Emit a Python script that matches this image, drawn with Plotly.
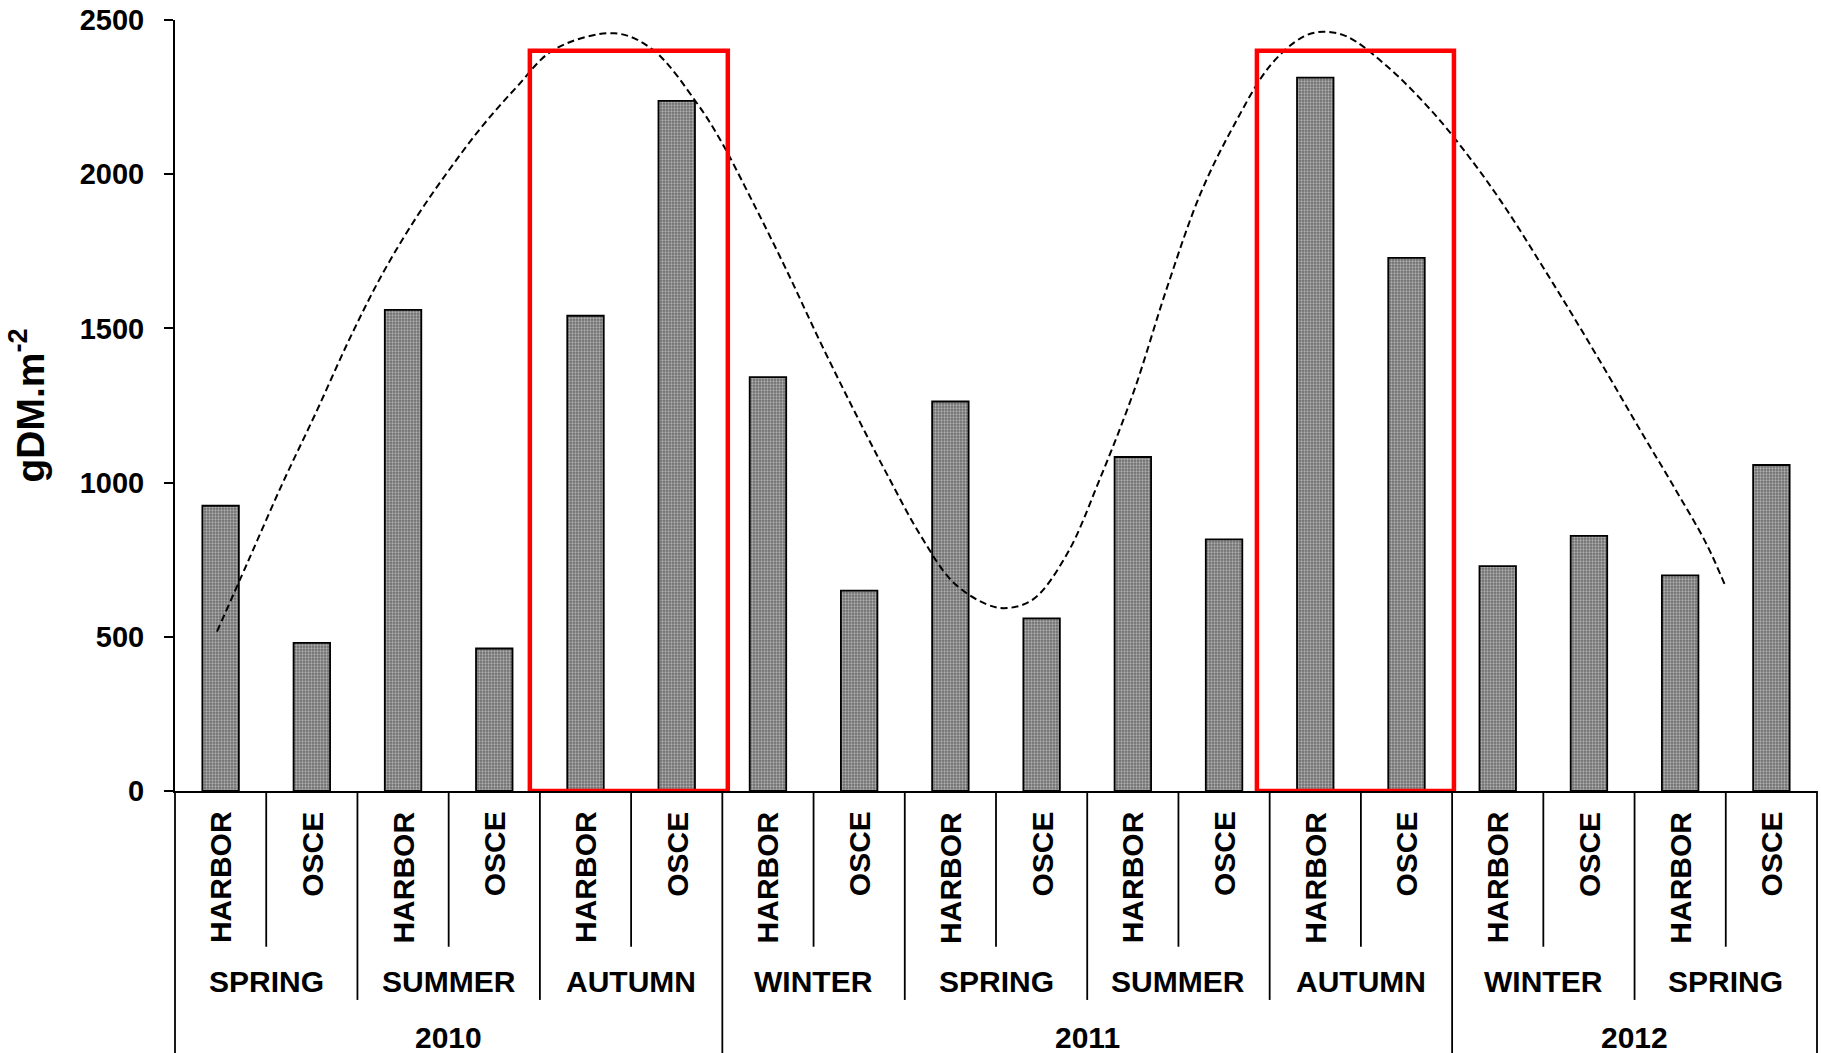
import plotly.graph_objects as go

# Biomass per sampling site, season by season (gDM.m-2)
sites = ["HARBOR", "OSCE"] * 9
seasons = ["SPRING", "SUMMER", "AUTUMN", "WINTER", "SPRING",
           "SUMMER", "AUTUMN", "WINTER", "SPRING"]
years = ["2010", "2011", "2012"]
seasons_per_year = [3, 4, 2]
biomass = [925, 480, 1560, 462, 1541, 2238, 1342, 650, 1263,
           560, 1083, 816, 2313, 1729, 729, 827, 699, 1057]

# Seasonal trend curve (hand-fitted), x in bar-index units
trend_x = [-0.04, 0.30, 0.67, 1.05, 1.42, 1.78, 2.15, 2.52, 2.88, 3.25, 3.65,
           4.32, 4.74, 5.22, 5.48, 5.84, 6.21, 6.57, 6.94, 7.30, 7.67, 8.03,
           8.40, 8.62, 8.91, 9.28, 9.64, 10.01, 10.37, 10.74, 11.10, 11.51,
           11.87, 12.09, 12.35, 12.79, 13.30, 13.74, 14.10, 14.47, 14.83,
           15.20, 15.56, 15.93, 16.29, 16.49]
trend_y = [517, 744, 992, 1230, 1470, 1680, 1862, 2020, 2160, 2284, 2403,
           2457, 2403, 2231, 2110, 1906, 1685, 1458, 1236, 1030, 830, 677,
           605, 593, 622, 769, 1013, 1295, 1628, 1936, 2154, 2354,
           2446, 2462, 2446, 2349, 2197, 2035, 1884, 1711, 1538,
           1354, 1171, 987, 800, 668]

# Highlighted autumn windows: (x0, x1, top)
highlight_x0 = [3.39, 11.36]
highlight_x1 = [5.56, 13.52]
highlight_top = 2400

FONT = "Liberation Sans, Arial, sans-serif"
n = len(biomass)
xs = list(range(n))

fig = go.Figure()
fig.add_trace(go.Bar(
    x=xs, y=biomass, width=0.4,
    marker=dict(
        color="#707070",
        line=dict(color="black", width=1.8),
        pattern=dict(shape=".", bgcolor="#6c6c6c", fgcolor="#f2f2f2",
                     size=3, solidity=0.45),
    ),
    showlegend=False,
))
fig.add_trace(go.Scatter(
    x=trend_x, y=trend_y, mode="lines",
    line=dict(color="black", width=2, dash="7px,4px", shape="spline", smoothing=1.0),
    showlegend=False,
))

# red highlight boxes
for x0, x1 in zip(highlight_x0, highlight_x1):
    fig.add_shape(type="rect", xref="x", yref="y", x0=x0, x1=x1, y0=0, y1=highlight_top,
                  line=dict(color="#ff0000", width=4.5), layer="above")


def frac(b):
    """Category boundary (in bar-index units) -> fraction of the x domain."""
    return (b + 0.5) / n


# paper-y positions of the category table below the axis
Y_SITE_TOP = -0.024
Y_SITE_LINE = -0.202
Y_SEASON = -0.247
Y_SEASON_LINE = -0.271
Y_YEAR = -0.320
Y_BOTTOM = -0.36

line_style = dict(color="black", width=1.8)

# site labels
for i, s in enumerate(sites):
    fig.add_annotation(x=i, y=Y_SITE_TOP, xref="x", yref="paper", text=s,
                       textangle=-90, showarrow=False, yanchor="top", xanchor="center",
                       font=dict(family=FONT, size=30, color="black", weight="bold"))

# season labels
year_bounds = [0]
for k in seasons_per_year:
    year_bounds.append(year_bounds[-1] + 2 * k)
for j, s in enumerate(seasons):
    fig.add_annotation(x=2 * j + 0.5, y=Y_SEASON, xref="x", yref="paper", text=s,
                       showarrow=False, yanchor="middle", xanchor="center",
                       font=dict(family=FONT, size=30, color="black", weight="bold"))

# separators of the category table
for b in range(n + 1):
    pos = b - 0.5
    if b in year_bounds:
        y1 = Y_BOTTOM
    elif b % 2 == 0:
        y1 = Y_SEASON_LINE
    else:
        y1 = Y_SITE_LINE
    fig.add_shape(type="line", xref="paper", yref="paper", x0=frac(pos), x1=frac(pos),
                  y0=0, y1=y1, line=line_style)

# year labels
for y, a, b in zip(years, year_bounds[:-1], year_bounds[1:]):
    fig.add_annotation(x=(a + b - 1) / 2, y=Y_YEAR, xref="x", yref="paper", text=y,
                       showarrow=False, yanchor="middle", xanchor="center",
                       font=dict(family=FONT, size=30, color="black", weight="bold"))

# y axis title
fig.add_annotation(x=(27 - 175) / 1642, y=0.5, xref="paper", yref="paper",
                   text="gDM.m<sup>-2</sup>",
                   textangle=-90, showarrow=False, xanchor="center", yanchor="middle",
                   font=dict(family=FONT, size=39, color="black", weight="bold"))

fig.update_layout(
    width=1821, height=1053,
    margin=dict(l=175, r=4, t=20, b=262),
    paper_bgcolor="white", plot_bgcolor="white",
    bargap=0.6,
    xaxis=dict(range=[-0.5, n - 0.5], showticklabels=False, ticks="",
               showgrid=False, zeroline=False, showline=True,
               linecolor="black", linewidth=2),
    yaxis=dict(range=[0, 2500], tickvals=[0, 500, 1000, 1500, 2000, 2500],
               ticks="outside", ticklen=9, tickwidth=2, tickcolor="black",
               showgrid=False, zeroline=False, showline=True,
               linecolor="black", linewidth=2, ticklabelstandoff=14,
               tickfont=dict(family=FONT, size=29, color="black", weight="bold")),
)

fig.write_html("out.html")
